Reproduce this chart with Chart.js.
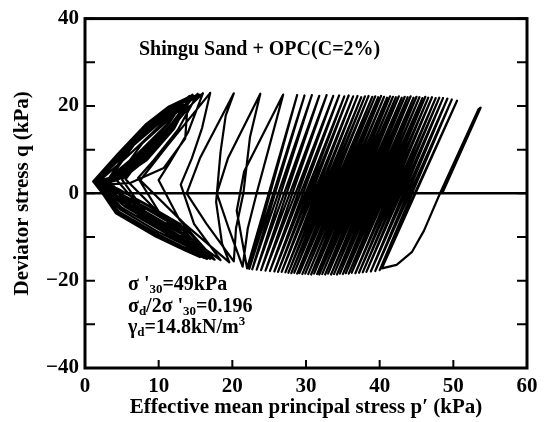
<!DOCTYPE html>
<html>
<head>
<meta charset="utf-8">
<script src="https://cdn.jsdelivr.net/npm/chart.js@4.4.0/dist/chart.umd.min.js"></script>
<style>
  html, body { margin: 0; padding: 0; background: #fff; }
  #wrap { width: 546px; height: 422px; }
</style>
</head>
<body>
<div id="wrap"><canvas id="pathChart" width="546" height="422"></canvas></div>
<script>
// Effective stress path, cyclic undrained triaxial test (p', q in kPa)

// first loading cycle from the consolidated state
const firstP = [48.5, 53.7, 53.4, 48.2, 46.0, 44.4, 42.3, 40.3];
const firstQ = [0, 19.6, 19.2, 0, -8.6, -13.4, -16.4, -17.2];

// peaks and troughs of the steady cycles while p' drops
const peakP = [50.5, 49.8, 49.2, 48.6, 48.1, 47.6, 47.1, 46.6, 46.2, 45.8, 45.4, 45.0, 44.6, 44.2,
  43.8, 43.4, 43.0, 42.6, 42.2, 41.8, 41.4, 41.0, 40.6, 40.2, 39.8, 39.4, 39.0, 38.5,
  38.0, 37.5, 37.0, 36.4, 35.8, 35.2, 34.5, 33.7, 32.8, 31.8, 30.8, 29.8, 28.8];
const peakQ = [21.2, 21.5, 21.7, 21.8, 21.9, 21.8, 22.0, 21.9, 22.1, 21.8, 22.0, 22.1, 21.9, 22.2,
  22.0, 22.1, 21.9, 22.2, 22.0, 22.1, 22.2, 21.9, 22.1, 22.3, 22.0, 22.2, 22.1, 22.3,
  22.2, 22.0, 22.3, 22.2, 22.4, 22.2, 22.4, 22.3, 22.5, 22.3, 22.5, 22.4, 22.5];
const troughP = [40.0, 39.4, 38.8, 38.2, 37.7, 37.2, 36.7, 36.2, 35.8, 35.4, 35.0, 34.6, 34.2, 33.8,
  33.4, 33.0, 32.6, 32.2, 31.8, 31.5, 31.1, 30.7, 30.3, 29.9, 29.5, 29.1, 28.8, 28.4,
  28.0, 27.6, 27.2, 26.7, 26.2, 25.7, 25.1, 24.5, 23.9, 23.3, 22.7, 22.3, 22.0];
const troughQ = [-17.6, -17.8, -17.9, -18.0, -18.1, -18.2, -18.3, -18.2, -18.4, -18.3, -18.5, -18.4, -18.6, -18.5,
  -18.6, -18.4, -18.6, -18.5, -18.6, -18.5, -18.4, -18.6, -18.5, -18.4, -18.5, -18.3, -18.4, -18.2,
  -18.3, -18.2, -18.1, -18.0, -18.0, -17.9, -17.8, -17.7, -17.6, -17.5, -17.4, -17.3, -17.2];

// cycles on the way to liquefaction
const transitionP = [20.6, 21.6, 26.9, 24.9, 23.3, 22.1, 21.4, 19.5, 17.9, 19.4, 23.8, 22.4, 21.5, 20.5, 20.2,
  16.5, 13.8, 15.6, 20.2, 19.1, 18.4, 17.8, 18.6, 19.6,
  13.5, 7.5, 11.0, 17.0, 15.9, 14.5, 13.0, 14.8, 18.4,
  11.5, 5.5, 9.2, 16.0, 14.0, 11.5, 10.0, 12.8, 17.6,
  9.5, 4.2, 7.8, 15.3, 12.6, 9.3, 7.2, 10.5, 17.0,
  8.0, 3.2, 6.6, 14.6, 11.8, 7.8, 5.0, 8.5, 16.6,
  7.5, 3.0, 6.0, 14.2];
const transitionQ = [-4, 5, 22.6, 10, 0, -8, -16.8, -8, 0, 8, 22.8, 12.9, 0, -8, -15.6,
  -7, 0, 8, 22.9, 17.8, 9.5, -2, -11.5, -15.8,
  -7, 3, 10.5, 23.0, 15, 8, 2, -7, -15.3,
  -7, 3.2, 11.5, 22.9, 14, 7, 3, -6, -15.2,
  -7, 3.2, 11.5, 22.8, 14.5, 7.5, 3.5, -5.5, -15.0,
  -6, 3.0, 11, 22.6, 14.8, 7.0, 3.2, -5, -15.0,
  -5.5, 2.8, 10.5, 22.3];

// butterfly loops once p' is close to zero
const butterflyP = [
  12.0, 8.2, 4.2, 1.9, 4.8, 10.1, 14.0, 16.4, 12.6, 7.7, 3.8, 1.6, 5.2, 8.9, 11.9, 14.8,
  11.8, 7.7, 3.8, 1.6, 4.3, 9.8, 13.8, 16.2, 12.4, 7.3, 3.4, 1.3, 4.7, 8.4, 11.6, 14.0,
  13.6, 10.7, 6.2, 2.6, 5.6, 10.9, 14.4, 15.8, 12.9, 8.0, 4.2, 1.8, 5.6, 9.5, 12.4, 15.6,
  11.9, 8.0, 4.0, 1.7, 5.0, 10.4, 14.2, 17.0, 13.4, 8.2, 3.9, 1.4, 5.0, 8.7, 11.8, 13.6,
  11.4, 7.2, 3.4, 1.4, 4.2, 9.6, 13.6, 15.6, 12.0, 7.1, 3.2, 1.1, 4.5, 8.2, 11.4, 14.4,
  12.1, 8.4, 4.4, 1.9, 5.3, 10.6, 14.6, 16.8, 13.6, 8.6, 4.4, 1.7, 4.9, 8.6, 11.7, 14.2,
  12.0, 8.2, 4.2, 1.8, 5.8, 11.0, 14.8, 16.0, 12.8, 7.8, 3.6, 1.2, 4.6, 8.3, 11.5, 13.2,
  11.2, 7.0, 3.2, 1.2, 4.4, 9.9, 13.9, 16.5, 12.6, 7.5, 3.3, 1.5, 4.8, 8.5, 11.6, 14.6,
  11.6, 7.5, 3.6, 1.7, 4.6, 10.0, 14.0, 16.3];
const butterflyQ = [
  15.0, 7.8, 3.1, 2.2, -3.7, -9.0, -12.2, -14.2, -8.5, -3.7, 0.8, 2.7, 8.6, 15.0, 19.5, 22.3,
  15.6, 8.2, 3.3, 2.2, -4.5, -9.8, -12.9, -14.8, -9.4, -4.4, 0.6, 2.8, 8.9, 15.5, 19.7, 22.0,
  12.5, 5.8, 2.4, 2.0, -2.5, -7.8, -11.2, -13.6, -7.0, -2.2, 1.2, 2.6, 8.2, 14.4, 19.1, 22.6,
  15.2, 8.0, 3.2, 2.3, -3.3, -8.6, -12.0, -14.6, -8.6, -3.5, 0.9, 2.6, 8.8, 15.2, 19.6, 21.6,
  16.0, 8.6, 3.4, 2.4, -4.6, -9.9, -13.1, -14.6, -9.2, -4.5, 0.4, 2.7, 9.1, 15.7, 19.9, 22.3,
  14.8, 7.6, 3.0, 2.1, -2.9, -8.2, -11.6, -13.8, -8.0, -2.9, 1.1, 2.6, 8.7, 15.3, 19.7, 22.1,
  15.0, 7.8, 3.1, 2.3, -2.2, -7.4, -10.8, -13.2, -7.6, -2.8, 1.0, 2.5, 8.9, 15.6, 19.8, 21.0,
  15.9, 8.8, 3.5, 2.5, -4.4, -9.8, -13.0, -15.0, -9.6, -4.6, 0.5, 2.8, 9.0, 15.6, 19.8, 22.4,
  15.6, 8.4, 3.3, 2.3, -4.2, -9.5, -12.8, -14.7];

const xTicks = [0, 10, 20, 30, 40, 50, 60];
const yTicks = [-40, -20, 0, 20, 40];
const yMinorTicks = [-30, -10, 10, 30];

// join the phases into one continuous path
const path = [];
firstP.forEach((p, i) => path.push({ x: p, y: firstQ[i] }));
peakP.forEach((p, i) => {
  path.push({ x: p, y: peakQ[i] });
  path.push({ x: troughP[i], y: troughQ[i] });
});
transitionP.forEach((p, i) => path.push({ x: p, y: transitionQ[i] }));
butterflyP.forEach((p, i) => path.push({ x: p, y: butterflyQ[i] }));

const serif = "'Liberation Serif', 'Times New Roman', serif";
const boldFont = { family: serif, size: 21, weight: 'bold' };

// text runs: [text, 'n' | 'sub' | 'sup']
const noteLines = [
  [['σ \'', 'n'], ['30', 'sub'], ['=49kPa', 'n']],
  [['σ', 'n'], ['d', 'sub'], ['/2σ \'', 'n'], ['30', 'sub'], ['=0.196', 'n']],
  [['γ', 'n'], ['d', 'sub'], ['=14.8kN/m', 'n'], ['3', 'sup']]
];

const frameAndNotes = {
  id: 'frameAndNotes',
  afterDatasetsDraw(chart) {
    const { ctx, chartArea: a, scales: { x, y } } = chart;
    ctx.save();
    ctx.strokeStyle = '#000';
    ctx.lineWidth = 3;
    ctx.strokeRect(a.left, a.top, a.right - a.left, a.bottom - a.top);

    // inward ticks
    ctx.lineWidth = 2;
    ctx.beginPath();
    yTicks.concat(yMinorTicks).forEach(v => {
      const py = y.getPixelForValue(v);
      ctx.moveTo(a.left, py); ctx.lineTo(a.left + 10, py);
      ctx.moveTo(a.right, py); ctx.lineTo(a.right - 10, py);
    });
    xTicks.forEach(v => {
      const px = x.getPixelForValue(v);
      ctx.moveTo(px, a.bottom); ctx.lineTo(px, a.bottom - 8);
    });
    ctx.stroke();

    // labels inside the plot
    ctx.fillStyle = '#000';
    ctx.textBaseline = 'middle';
    ctx.font = `bold 20px ${serif}`;
    ctx.fillText('Shingu Sand + OPC(C=2%)', 139, 50);

    let ty = 285;
    noteLines.forEach(line => {
      let tx = 128;
      line.forEach(([t, kind]) => {
        let dy = 0;
        if (kind === 'n') {
          ctx.font = `bold 20px ${serif}`;
        } else {
          ctx.font = `bold 13px ${serif}`;
          dy = kind === 'sub' ? 5 : -6;
        }
        ctx.fillText(t, tx, ty + dy);
        tx += ctx.measureText(t).width;
      });
      ty += 21.5;
    });
    ctx.restore();
  }
};

const minusSign = v => String(v).replace('-', '\u2212');

new Chart(document.getElementById('pathChart'), {
  type: 'scatter',
  data: {
    datasets: [
      {
        data: [{ x: 0, y: 0 }, { x: 60, y: 0 }],
        showLine: true,
        borderColor: '#000',
        borderWidth: 2.5,
        pointRadius: 0
      },
      {
        data: path,
        showLine: true,
        borderColor: '#000',
        borderWidth: 2.2,
        pointRadius: 0,
        tension: 0,
        borderJoinStyle: 'round'
      }
    ]
  },
  options: {
    responsive: false,
    animation: false,
    layout: { padding: { top: 8, right: 19, left: 0, bottom: 0 } },
    plugins: {
      legend: { display: false },
      tooltip: { enabled: false }
    },
    scales: {
      x: {
        type: 'linear',
        min: 0,
        max: 60,
        afterBuildTicks: s => { s.ticks = xTicks.map(v => ({ value: v })); },
        afterFit: s => { s.height = 54; },
        grid: { display: false, drawTicks: false },
        border: { display: false },
        ticks: { color: '#000', font: boldFont, padding: 6, maxRotation: 0 },
        title: {
          display: true,
          text: 'Effective mean principal stress p\u2032 (kPa)',
          color: '#000',
          font: boldFont,
          padding: { top: 0, bottom: 2 }
        }
      },
      y: {
        type: 'linear',
        min: -40,
        max: 40,
        afterBuildTicks: s => { s.ticks = yTicks.map(v => ({ value: v })); },
        afterFit: s => { s.width = 85; },
        grid: { display: false, drawTicks: false },
        border: { display: false },
        ticks: { color: '#000', font: boldFont, padding: 6, callback: minusSign },
        title: {
          display: true,
          text: 'Deviator stress q (kPa)',
          color: '#000',
          font: boldFont,
          padding: { top: 10, bottom: 0 }
        }
      }
    }
  },
  plugins: [frameAndNotes]
});
</script>
</body>
</html>
